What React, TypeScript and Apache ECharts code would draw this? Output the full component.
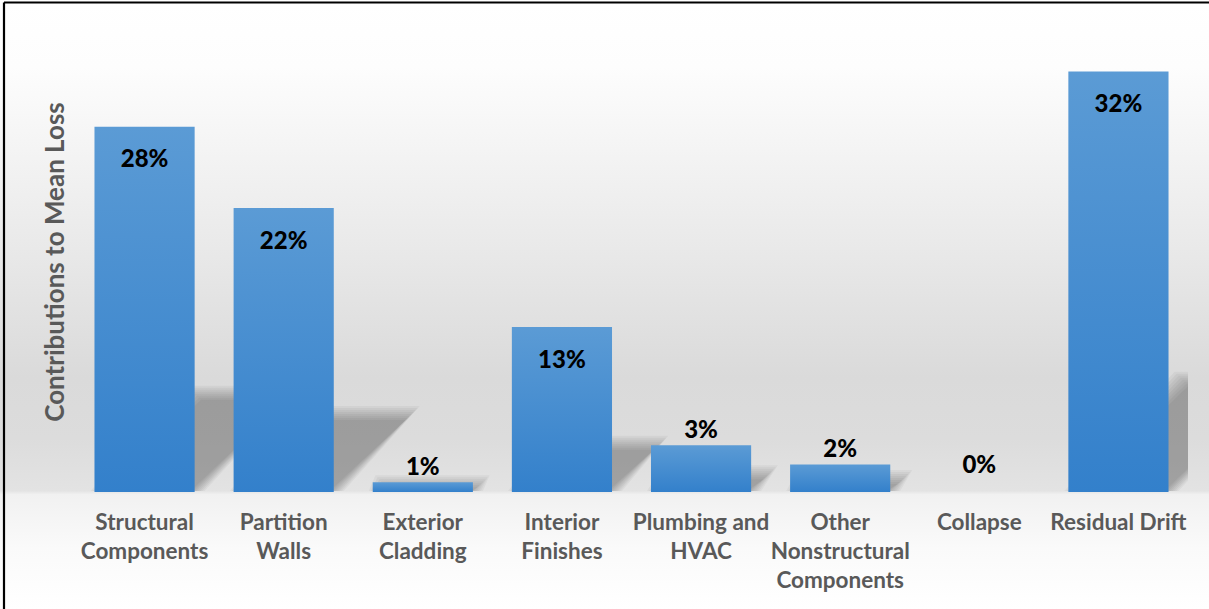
import React, { useEffect, useRef } from "react";
import * as echarts from "echarts";

const categories = [
  "Structural\nComponents",
  "Partition\nWalls",
  "Exterior\nCladding",
  "Interior\nFinishes",
  "Plumbing and\nHVAC",
  "Other\nNonstructural\nComponents",
  "Collapse",
  "Residual Drift",
];
const values = [27.8, 21.6, 0.74, 12.55, 3.55, 2.1, 0, 32.0];
const valueLabels = ["28%", "22%", "1%", "13%", "3%", "2%", "0%", "32%"];
const labelInside = [true, true, false, true, false, false, false, true];
const yAxisTitle = "Contributions to Mean Loss";
const yMin = 0;
const yMax = 35;

const FONT = "Lato";

export default function App() {
  const ref = useRef<HTMLDivElement>(null);

  useEffect(() => {
    document.body.style.margin = "0";
    if (!ref.current) return;
    const chart = echarts.init(ref.current, null, { renderer: "svg" });

    const barData = values.map((v, i) => ({
      value: v,
      label: labelInside[i]
        ? { position: "insideTop", distance: 19 }
        : { position: "top", distance: v === 0 ? 17 : 5 },
    }));

    chart.setOption({
      animation: false,
      grid: { left: 75, right: 21, top: 32, bottom: 117, containLabel: false },
      graphic: [
        {
          type: "line",
          shape: { x1: 4, y1: 2.5, x2: 1209, y2: 2.5 },
          style: { stroke: "#000", lineWidth: 2.2 },
          z: 100,
        },
        {
          type: "line",
          shape: { x1: 4, y1: 2.5, x2: 4, y2: 609 },
          style: { stroke: "#000", lineWidth: 2.2 },
          z: 100,
        },
      ],
      xAxis: {
        type: "category",
        data: categories,
        axisLine: { show: false },
        axisTick: { show: false },
        axisLabel: {
          interval: 0,
          color: "#595959",
          fontFamily: FONT,
          fontWeight: "bold",
          fontSize: 22.5,
          lineHeight: 29,
          margin: 15,
        },
      },
      yAxis: {
        type: "value",
        min: yMin,
        max: yMax,
        axisLine: { show: false },
        axisTick: { show: false },
        axisLabel: { show: false },
        splitLine: { show: false },
        name: yAxisTitle,
        nameLocation: "middle",
        nameGap: 8,
        nameTextStyle: {
          color: "#595959",
          fontFamily: FONT,
          fontWeight: "bold",
          fontSize: 26,
        },
      },
      series: [
        {
          type: "custom",
          z: 1,
          silent: true,
          clip: true,
          data: values.map((v, i) => [i, v]),
          renderItem: (params: any, api: any) => {
            const idx = api.value(0);
            const v = api.value(1);
            const top = api.coord([idx, v]);
            const base = api.coord([idx, 0]);
            const bw = api.size([1, 0])[0] * 0.72;
            const hBar = base[1] - top[1];
            if (hBar <= 0) return null;
            const h = Math.min(hBar, hBar * 0.25 + 8);
            const dx = h;
            const x0 = base[0] - bw / 2;
            const x1 = base[0] + bw / 2;
            const y = base[1];
            const children: any[] = [];
            for (let r = -7; r <= 7; r += 2) {
              children.push({
                type: "polygon",
                shape: {
                  points: [
                    [x0 + 3 - r, y - 1],
                    [x1 + 3 + r, y - 1],
                    [x1 + dx + r, y - h - r],
                    [x0 + dx - r, y - h - r],
                  ],
                },
                style: { fill: "rgba(0,0,0,0.04)" },
              });
            }
            return { type: "group", children };
          },
        },
        {
          type: "bar",
          z: 2,
          barWidth: "72%",
          data: barData,
          itemStyle: {
            color: new echarts.graphic.LinearGradient(0, 0, 0, 1, [
              { offset: 0, color: "#5b9bd5" },
              { offset: 1, color: "#3380cb" },
            ]),
          },
          label: {
            show: true,
            color: "#000",
            fontFamily: FONT,
            fontWeight: 900,
            fontSize: 24,
            formatter: (p: any) => valueLabels[p.dataIndex],
          },
        },
      ],
    });

    return () => chart.dispose();
  }, []);

  return (
    <div
      ref={ref}
      style={{
        position: "fixed",
        left: 0,
        top: 0,
        width: 1209,
        height: 609,
        background:
          "linear-gradient(to bottom, #ffffff 0%, #fdfdfd 11%, #ebebeb 38%, #dadada 62%, #dcdcdc 72%, #e3e3e3 80.6%, #f1f1f1 81.2%, #fafafa 90%, #ffffff 100%)",
      }}
    />
  );
}
